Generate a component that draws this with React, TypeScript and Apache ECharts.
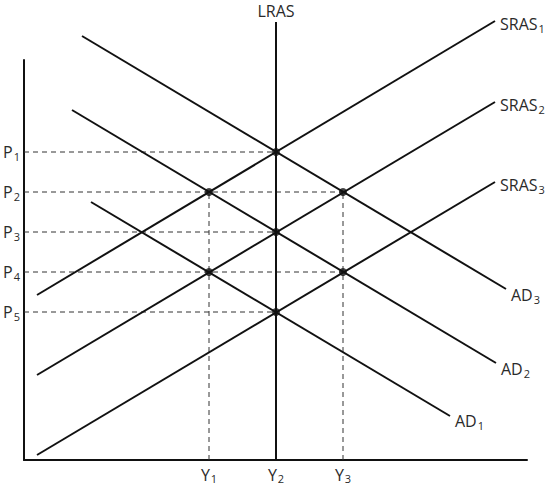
import React, { useEffect, useRef } from 'react';
import * as echarts from 'echarts';

// chart units: 1 unit ~ 1px, origin at the axes corner
const priceLevels = [308, 268, 228, 188, 148];
const priceLabels = ['1', '2', '3', '4', '5'];
const outputLevels = [185, 252, 319];
const outputLabels = ['1', '2', '3'];

const lras = [[252, 0], [252, 438]];
const sras1 = [[13, 165], [471, 439]];
const sras2 = [[13, 85], [471, 358]];
const sras3 = [[13, 5], [471, 278]];
const ad3 = [[58, 424], [482, 171]];
const ad2 = [[48, 350], [472, 97]];
const ad1 = [[67, 258], [426, 44]];

const equilibria = [
  [252, 308], [185, 268], [319, 268], [252, 228], [185, 188], [319, 188], [252, 148],
];

// dashed guides: horizontal reach on each price level, vertical drops for Y1 / Y3
const guideH = [[308, 252], [268, 319], [228, 252], [188, 319], [148, 252]];
const guideV = [[185, 268], [319, 268]];

const font = '"Open Sans", "Noto Sans", sans-serif';
const rich = {
  b: { fontSize: 16, color: '#2a2a2a', fontFamily: font },
  s: { fontSize: 11, color: '#2a2a2a', fontFamily: font, padding: [8, 0, 0, 1] },
};

const sub = (main: string, idx: string) => `{b|${main}}{s|${idx}}`;

const App: React.FC = () => {
  const chartRef = useRef<HTMLDivElement>(null);

  useEffect(() => {
    if (!chartRef.current) return;
    const chart = echarts.init(chartRef.current, undefined, { renderer: 'svg' });

    const curve = (name: string, data: number[][], label: string, offset: number[]) => ({
      name,
      type: 'line',
      data,
      symbol: 'none',
      clip: false,
      silent: true,
      lineStyle: { color: '#111', width: 2 },
      endLabel: {
        show: true,
        distance: 5,
        offset,
        formatter: () => label,
        rich,
      },
      z: 3,
    });

    const dashed = (data: number[][]) => ({
      type: 'line',
      data,
      symbol: 'none',
      silent: true,
      lineStyle: { color: '#333', width: 1, type: [5, 4] },
      z: 2,
    });

    const series: any[] = [
      ...guideH.map(([p, x]) => dashed([[0, p], [x, p]])),
      ...guideV.map(([x, p]) => dashed([[x, 0], [x, p]])),
      {
        name: 'LRAS',
        type: 'line',
        data: lras,
        symbol: 'none',
        clip: false,
        silent: true,
        lineStyle: { color: '#111', width: 2 },
        endLabel: {
          show: true,
          align: 'center',
          offset: [-8, -11],
          formatter: () => '{b|LRAS}',
          rich,
        },
        z: 3,
      },
      curve('SRAS1', sras1, sub('SRAS', '1'), [0, 3]),
      curve('SRAS2', sras2, sub('SRAS', '2'), [0, 3]),
      curve('SRAS3', sras3, sub('SRAS', '3'), [0, 3]),
      curve('AD3', ad3, sub('AD', '3'), [0, 6]),
      curve('AD2', ad2, sub('AD', '2'), [0, 6]),
      curve('AD1', ad1, sub('AD', '1'), [0, 5]),
      {
        type: 'scatter',
        data: equilibria,
        symbol: 'circle',
        symbolSize: 8,
        silent: true,
        itemStyle: { color: '#111' },
        z: 5,
      },
    ];

    chart.setOption({
      animation: false,
      backgroundColor: '#fff',
      grid: { left: 24, top: 60, width: 503, height: 400 },
      xAxis: {
        type: 'value',
        min: 0,
        max: 503,
        axisLine: { show: true, lineStyle: { color: '#111', width: 2 } },
        axisTick: { show: false },
        splitLine: { show: false },
        axisLabel: {
          customValues: outputLevels,
          margin: 5,
          formatter: (v: number) => sub('Y', outputLabels[outputLevels.indexOf(v)] ?? ''),
          rich,
        },
      },
      yAxis: {
        type: 'value',
        min: 0,
        max: 400,
        axisLine: { show: true, lineStyle: { color: '#111', width: 2 } },
        axisTick: { show: false },
        splitLine: { show: false },
        axisLabel: {
          customValues: priceLevels,
          margin: 4,
          formatter: (v: number) => sub('P', priceLabels[priceLevels.indexOf(v)] ?? ''),
          rich,
        },
      },
      series,
    });

    return () => {
      chart.dispose();
    };
  }, []);

  return (
    <div
      ref={chartRef}
      style={{ position: 'fixed', left: 0, top: 0, width: '553px', height: '489px' }}
    />
  );
};

export default App;
